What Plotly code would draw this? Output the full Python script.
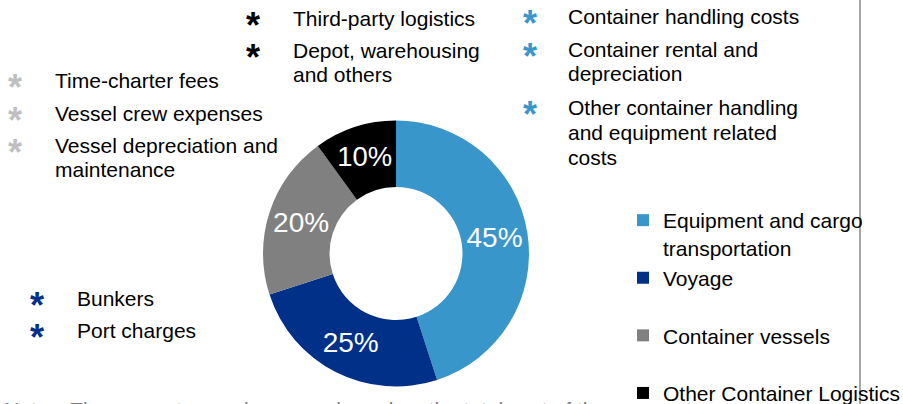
import plotly.graph_objects as go

# cost split by segment
segments = ['Equipment and cargo<br>transportation', 'Voyage<br> ', 'Container vessels<br> ',
            'Other Container Logistics']
shares = [45, 25, 20, 10]
seg_colors = ['#3896cb', '#003087', '#808080', '#000000']

# cost items behind each segment
equip_items = ['Container handling costs', 'Container rental and<br>depreciation',
               'Other container handling<br>and equipment related<br>costs']
voyage_items = ['Bunkers', 'Port charges']
vessel_items = ['Time-charter fees', 'Vessel crew expenses', 'Vessel depreciation and<br>maintenance']
other_items = ['Third-party logistics', 'Depot, warehousing<br>and others']

W, H = 903, 404
FONT = 'Arial, Liberation Sans, sans-serif'
LINE = 25


def px(x, y):
    return x / W, 1 - y / H


fig = go.Figure()
fig.add_trace(go.Pie(
    labels=segments, values=shares, hole=0.5, sort=False, direction='clockwise',
    marker=dict(colors=seg_colors, line=dict(width=0)),
    textinfo='percent', textposition='inside', insidetextorientation='horizontal',
    insidetextfont=dict(color='white', size=28, family=FONT),
    domain=dict(x=[263 / W, 529 / W], y=[17.5 / H, 283.5 / H]),
))

annotations = []


def add_block(items, color, star_x, text_x, ys):
    # ys: y centre of first line of each item
    for item, y in zip(items, ys):
        sx, sy = px(star_x, y)
        annotations.append(dict(x=sx, y=sy, xref='paper', yref='paper', text='<b>*</b>',
                                showarrow=False, xanchor='center', yanchor='middle', yshift=-7,
                                font=dict(size=36, color=color, family=FONT)))
        for i, line in enumerate(item.split('<br>')):
            tx, ty = px(text_x, y + i * LINE)
            annotations.append(dict(x=tx, y=ty, xref='paper', yref='paper', text=line,
                                    showarrow=False, xanchor='left', yanchor='middle',
                                    font=dict(size=21, color='black', family=FONT)))


add_block(vessel_items, '#bfbfbf', 15, 53, [81, 113, 145])
add_block(other_items, '#000000', 253, 291, [18, 50])
add_block(equip_items, '#3896cb', 530, 566, [16, 49, 107])
add_block(voyage_items, '#003087', 37, 75, [298, 330])

# footnote, mostly cut off by the bottom edge
nx, ny = px(2, 409)
annotations.append(dict(x=nx, y=ny, xref='paper', yref='paper',
                        text='Notes: The percentages shown are based on the total cost of the segments',
                        showarrow=False, xanchor='left', yanchor='middle',
                        font=dict(size=21, color='#7f7f7f', family=FONT)))

fig.update_layout(
    width=W, height=H, margin=dict(l=0, r=0, t=0, b=0, autoexpand=False),
    paper_bgcolor='white', plot_bgcolor='white',
    font=dict(family=FONT, color='black'),
    annotations=annotations,
    showlegend=True,
    legend=dict(x=623 / W, y=1 - 200 / H, xanchor='left', yanchor='top',
                font=dict(size=21, family=FONT), valign='top',
                bgcolor='rgba(0,0,0,0)', tracegroupgap=0),
    shapes=[dict(type='line', xref='paper', yref='paper', x0=860 / W, x1=860 / W, y0=0, y1=1,
                 line=dict(color='#a6a6a6', width=2))],
)

fig.write_html('out.html', config={'displayModeBar': False},
               post_script="document.body.style.margin='0';")
